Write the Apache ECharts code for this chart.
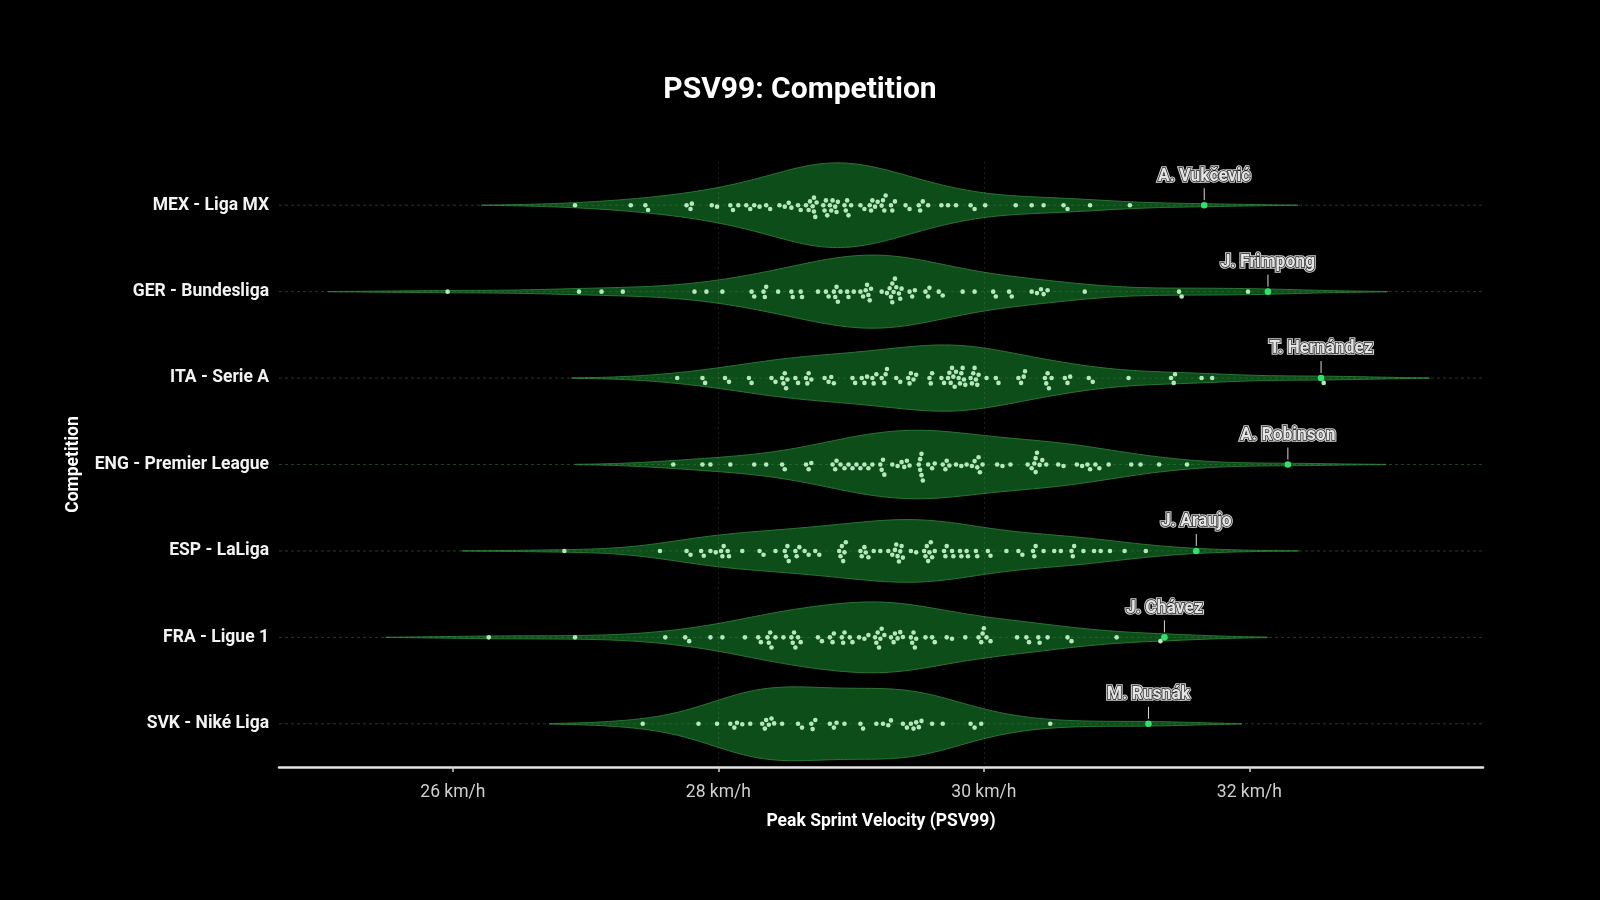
<!DOCTYPE html>
<html>
<head>
<meta charset="utf-8">
<title>PSV99: Competition</title>
<style>
  html, body { margin: 0; padding: 0; background: #000; }
  #main { width: 1600px; height: 900px; }
</style>
</head>
<body>
<div id="main"></div>
<script src="https://cdn.jsdelivr.net/npm/echarts@6/dist/echarts.min.js"></script>
<script>
// 联赛（从上到下）
var leagues = ['MEX - Liga MX', 'GER - Bundesliga', 'ITA - Serie A', 'ENG - Premier League',
  'ESP - LaLiga', 'FRA - Ligue 1', 'SVK - Niké Liga'];

// 每个联赛最快球员
var topNames = ['A. Vukčević', 'J. Frimpong', 'T. Hernández', 'A. Robinson', 'J. Araujo', 'J. Chávez', 'M. Rusnák'];
var topValues = [31.66, 32.14, 32.54, 32.29, 31.60, 31.36, 31.24];

// 其余球员 PSV99 (km/h)
var mexValues = [26.92, 27.34, 27.45, 27.47, 27.76, 27.79, 27.80, 27.95, 27.99, 28.09, 28.11, 28.15, 28.21, 28.24,
  28.27, 28.31, 28.36, 28.39, 28.46, 28.50, 28.53, 28.55, 28.60, 28.62, 28.66, 28.68, 28.69, 28.71, 28.72, 28.72,
  28.73, 28.74, 28.79, 28.80, 28.81, 28.82, 28.84, 28.85, 28.86, 28.88, 28.89, 28.90, 28.95, 28.96, 28.97, 28.98,
  29.00, 29.07, 29.10, 29.14, 29.15, 29.16, 29.18, 29.20, 29.23, 29.24, 29.25, 29.26, 29.30, 29.31, 29.33, 29.41,
  29.44, 29.51, 29.52, 29.54, 29.58, 29.68, 29.73, 29.79, 29.90, 29.93, 30.01, 30.24, 30.36, 30.45, 30.60, 30.63,
  30.80, 31.10];
var gerValues = [25.96, 26.95, 27.12, 27.28, 27.82, 27.91, 28.03, 28.25, 28.27, 28.34, 28.35, 28.36, 28.45, 28.55,
  28.56, 28.62, 28.63, 28.75, 28.81, 28.83, 28.87, 28.88, 28.89, 28.90, 28.92, 28.97, 28.98, 29.02, 29.07, 29.09,
  29.11, 29.12, 29.13, 29.14, 29.15, 29.23, 29.27, 29.29, 29.30, 29.31, 29.31, 29.32, 29.33, 29.34, 29.36, 29.37,
  29.38, 29.44, 29.46, 29.48, 29.56, 29.58, 29.59, 29.66, 29.69, 29.84, 29.93, 30.07, 30.09, 30.19, 30.21, 30.36,
  30.40, 30.43, 30.45, 30.48, 30.76, 31.47, 31.49, 31.99];
var itaValues = [27.69, 27.88, 27.90, 28.05, 28.08, 28.23, 28.25, 28.40, 28.43, 28.48, 28.49, 28.50, 28.51, 28.52,
  28.58, 28.60, 28.66, 28.67, 28.68, 28.70, 28.80, 28.83, 28.85, 28.87, 29.01, 29.03, 29.08, 29.10, 29.12, 29.16,
  29.17, 29.19, 29.23, 29.25, 29.26, 29.27, 29.34, 29.37, 29.43, 29.44, 29.45, 29.47, 29.49, 29.59, 29.60, 29.61,
  29.68, 29.70, 29.73, 29.74, 29.75, 29.76, 29.77, 29.78, 29.79, 29.81, 29.82, 29.83, 29.84, 29.85, 29.86, 29.90,
  29.91, 29.92, 29.93, 29.94, 29.95, 29.96, 30.02, 30.09, 30.11, 30.26, 30.28, 30.30, 30.31, 30.46, 30.47, 30.48,
  30.49, 30.51, 30.61, 30.63, 30.65, 30.79, 30.82, 31.09, 31.41, 31.43, 31.44, 31.64, 31.72, 32.56];
var engValues = [27.66, 27.88, 27.94, 28.09, 28.27, 28.36, 28.48, 28.50, 28.66, 28.68, 28.70, 28.86, 28.88, 28.89,
  28.92, 28.95, 28.98, 29.01, 29.04, 29.07, 29.10, 29.13, 29.16, 29.22, 29.23, 29.24, 29.25, 29.31, 29.35, 29.38,
  29.40, 29.42, 29.44, 29.51, 29.52, 29.52, 29.53, 29.53, 29.54, 29.58, 29.61, 29.63, 29.69, 29.71, 29.72, 29.74,
  29.79, 29.83, 29.87, 29.91, 29.93, 29.95, 29.96, 29.97, 29.99, 30.10, 30.14, 30.20, 30.33, 30.36, 30.38, 30.39,
  30.39, 30.40, 30.42, 30.44, 30.47, 30.56, 30.60, 30.70, 30.74, 30.78, 30.80, 30.84, 30.87, 30.94, 31.11, 31.18,
  31.32, 31.53];
var espValues = [26.84, 27.56, 27.76, 27.79, 27.87, 27.89, 27.94, 27.98, 28.02, 28.03, 28.04, 28.07, 28.08, 28.18,
  28.31, 28.34, 28.43, 28.50, 28.51, 28.52, 28.53, 28.58, 28.59, 28.61, 28.65, 28.68, 28.73, 28.76, 28.91, 28.92,
  28.93, 28.94, 28.95, 28.96, 29.07, 29.08, 29.10, 29.11, 29.13, 29.17, 29.22, 29.28, 29.31, 29.33, 29.34, 29.35,
  29.36, 29.37, 29.38, 29.39, 29.45, 29.49, 29.55, 29.56, 29.57, 29.58, 29.59, 29.60, 29.61, 29.63, 29.70, 29.71,
  29.72, 29.76, 29.77, 29.82, 29.83, 29.87, 29.88, 29.94, 29.95, 30.03, 30.05, 30.17, 30.26, 30.29, 30.37, 30.38,
  30.39, 30.45, 30.53, 30.58, 30.66, 30.67, 30.68, 30.75, 30.83, 30.88, 30.95, 31.06, 31.22];
var fraValues = [26.27, 26.92, 27.60, 27.75, 27.78, 27.94, 28.03, 28.20, 28.30, 28.32, 28.37, 28.38, 28.39, 28.40,
  28.43, 28.49, 28.55, 28.56, 28.57, 28.58, 28.60, 28.62, 28.75, 28.78, 28.84, 28.86, 28.87, 28.93, 28.94, 28.95,
  28.99, 29.01, 29.06, 29.10, 29.13, 29.18, 29.19, 29.20, 29.21, 29.22, 29.23, 29.25, 29.30, 29.32, 29.33, 29.35,
  29.37, 29.39, 29.45, 29.46, 29.47, 29.48, 29.49, 29.56, 29.61, 29.63, 29.72, 29.76, 29.86, 29.96, 29.98, 29.99,
  30.00, 30.02, 30.05, 30.25, 30.32, 30.34, 30.41, 30.42, 30.48, 30.63, 30.66, 31.00, 31.33];
var svkValues = [27.43, 27.85, 27.99, 28.09, 28.12, 28.14, 28.18, 28.24, 28.33, 28.35, 28.36, 28.38, 28.40, 28.42,
  28.48, 28.60, 28.63, 28.70, 28.71, 28.73, 28.84, 28.87, 28.89, 28.95, 29.07, 29.09, 29.19, 29.24, 29.28, 29.30,
  29.39, 29.42, 29.45, 29.47, 29.49, 29.51, 29.53, 29.61, 29.69, 29.90, 29.93, 29.98, 30.50];

var tickValues = [26, 28, 30, 32];

var leagueValues = [mexValues, gerValues, itaValues, engValues, espValues, fraValues, svkValues];

// 核密度估计（高斯核，Scott 带宽，cut = 2）
function kde(vals) {
  var n = vals.length;
  var mean = vals.reduce(function (a, b) { return a + b; }, 0) / n;
  var sd = Math.sqrt(vals.reduce(function (a, b) { return a + (b - mean) * (b - mean); }, 0) / (n - 1));
  var bw = sd * Math.pow(n, -0.2);
  var lo = Math.min.apply(null, vals) - 2 * bw;
  var hi = Math.max.apply(null, vals) + 2 * bw;
  var xs = [], ds = [];
  var steps = 200;
  for (var i = 0; i <= steps; i++) {
    var x = lo + (hi - lo) * i / steps;
    var s = 0;
    for (var j = 0; j < n; j++) {
      var z = (x - vals[j]) / bw;
      s += Math.exp(-0.5 * z * z);
    }
    xs.push(x);
    ds.push(s / (n * bw * Math.sqrt(2 * Math.PI)));
  }
  return { xs: xs, ds: ds };
}

var profiles = leagueValues.map(function (vals, k) { return kde(vals.concat([topValues[k]])); });
var maxDensity = Math.max.apply(null, profiles.map(function (p) { return Math.max.apply(null, p.ds); }));

// 蜂群图偏移（像素）
var swarmCache = { key: null, offsets: null };
function swarmOffsets(api) {
  var ppu = api.size([1, 0])[0];
  if (swarmCache.key === ppu) return swarmCache.offsets;
  var D = 5.5;
  var offsets = leagueValues.map(function (vals, k) {
    var placed = [{ x: topValues[k] * ppu, y: 0 }];
    var local = [];
    var order = vals.map(function (v, i) { return i; }).sort(function (a, b) { return vals[a] - vals[b]; });
    order.forEach(function (i) {
      var x = vals[i] * ppu;
      var near = placed.filter(function (p) { return Math.abs(p.x - x) < D; });
      var cands = [0];
      near.forEach(function (p) {
        var dy = Math.sqrt(D * D - (p.x - x) * (p.x - x));
        cands.push(p.y + dy, p.y - dy);
      });
      cands.sort(function (a, b) { return Math.abs(a) - Math.abs(b); });
      var y = 0;
      for (var c = 0; c < cands.length; c++) {
        var ok = near.every(function (p) {
          var dx = p.x - x, dy = p.y - cands[c];
          return dx * dx + dy * dy >= D * D - 0.01;
        });
        if (ok) { y = cands[c]; break; }
      }
      placed.push({ x: x, y: y });
      local[i] = y;
    });
    return local;
  });
  swarmCache = { key: ppu, offsets: offsets };
  return offsets;
}

var violinData = leagues.map(function (l, k) { return [k]; });
var dotData = [];
leagueValues.forEach(function (vals, k) {
  vals.forEach(function (v, i) { dotData.push([v, k, i]); });
});
var topData = topValues.map(function (v, k) { return [v, k]; });

var chart = echarts.init(document.getElementById('main'));
chart.setOption({
  backgroundColor: '#000',
  animation: false,
  title: {
    text: 'PSV99: Competition',
    left: 'center',
    top: 70,
    textStyle: { color: '#fff', fontSize: 30, fontWeight: 'bold', fontFamily: 'Roboto' }
  },
  grid: { left: 279, right: 117, top: 162, bottom: 133 },
  xAxis: {
    type: 'value',
    min: 24.69,
    max: 33.76,
    minInterval: 2,
    maxInterval: 2,
    z: 1.5,
    name: 'Peak Sprint Velocity (PSV99)',
    nameLocation: 'middle',
    nameGap: 46,
    nameTextStyle: { color: '#fff', fontSize: 17.5, fontWeight: 'bold', fontFamily: 'Roboto' },
    axisLine: { show: true, onZero: false, lineStyle: { color: '#e4e4e4', width: 2.5 } },
    axisTick: { show: true, length: 5, customValues: tickValues, lineStyle: { color: '#cfcfcf', width: 1.5 } },
    axisLabel: {
      customValues: tickValues,
      margin: 17,
      color: '#cfcfcf', fontSize: 17.5, fontFamily: 'Roboto',
      formatter: function (v) { return v + ' km/h'; }
    },
    splitLine: {
      show: true, showMinLine: false, showMaxLine: false,
      lineStyle: { color: 'rgba(255,255,255,0.11)', width: 1, type: [2, 3] }
    }
  },
  yAxis: {
    type: 'category',
    data: leagues,
    inverse: true,
    name: 'Competition',
    nameLocation: 'middle',
    nameGap: 196,
    nameTextStyle: { color: '#fff', fontSize: 17.5, fontWeight: 'bold', fontFamily: 'Roboto' },
    axisLine: { show: false },
    axisTick: { show: false },
    splitLine: { show: false },
    axisLabel: {
      margin: 10, padding: [4, 0, 0, 0],
      color: '#f2f2f2', fontSize: 17.5, fontWeight: 'bold', fontFamily: 'Roboto'
    }
  },
  series: [
    {
      type: 'custom',
      name: 'violin',
      z: 1,
      data: violinData,
      encode: { y: 0 },
      renderItem: function (params, api) {
        var k = api.value(0);
        var prof = profiles[k];
        var band = api.size([0, 1])[1];
        var cs = params.coordSys;
        var upper = [], lower = [];
        for (var i = 0; i < prof.xs.length; i++) {
          var p = api.coord([prof.xs[i], k]);
          var h = prof.ds[i] / maxDensity * 0.49 * band;
          upper.push([p[0], p[1] - h]);
          lower.unshift([p[0], p[1] + h]);
        }
        var c = api.coord([prof.xs[0], k]);
        return {
          type: 'group',
          children: [
            {
              type: 'line',
              shape: { x1: cs.x, y1: c[1], x2: cs.x + cs.width, y2: c[1] },
              style: { stroke: 'rgba(60,150,70,0.2)', lineWidth: 1, lineDash: [3, 3] }
            },
            {
              type: 'polygon',
              shape: { points: upper.concat(lower) },
              style: { fill: '#0d4d1a', stroke: '#2a7534', lineWidth: 1 }
            },
            {
              type: 'line',
              shape: { x1: cs.x, y1: c[1], x2: cs.x + cs.width, y2: c[1] },
              style: { stroke: 'rgba(90,190,100,0.22)', lineWidth: 1, lineDash: [3, 3] }
            }
          ]
        };
      }
    },
    {
      type: 'custom',
      name: 'players',
      z: 3,
      data: dotData,
      encode: { x: 0, y: 1 },
      renderItem: function (params, api) {
        var offs = swarmOffsets(api);
        var k = api.value(1), i = api.value(2);
        var p = api.coord([api.value(0), k]);
        return {
          type: 'circle',
          shape: { cx: p[0], cy: p[1] + offs[k][i], r: 2.3 },
          style: { fill: '#b6e8bd' }
        };
      }
    },
    {
      type: 'custom',
      name: 'fastest',
      z: 4,
      data: topData,
      encode: { x: 0, y: 1 },
      renderItem: function (params, api) {
        var k = api.value(1);
        var p = api.coord([api.value(0), k]);
        var font = 'bold 17.5px Roboto';
        return {
          type: 'group',
          children: [
            {
              type: 'line',
              shape: { x1: p[0], y1: p[1] - 5, x2: p[0], y2: p[1] - 17 },
              style: { stroke: '#d8d8d8', lineWidth: 1 }
            },
            {
              type: 'circle',
              shape: { cx: p[0], cy: p[1], r: 3.3 },
              style: { fill: '#34e06c' }
            },
            {
              type: 'text',
              x: p[0], y: p[1] - 29,
              style: {
                text: topNames[k], font: font, align: 'center', verticalAlign: 'middle',
                fill: '#d0d0d0', stroke: '#d0d0d0', lineWidth: 3.5
              }
            },
            {
              type: 'text',
              x: p[0], y: p[1] - 29,
              style: {
                text: topNames[k], font: font, align: 'center', verticalAlign: 'middle',
                fill: '#e4e4e4', stroke: '#1a1a1a', lineWidth: 1.4
              }
            }
          ]
        };
      }
    }
  ]
});
</script>
</body>
</html>
